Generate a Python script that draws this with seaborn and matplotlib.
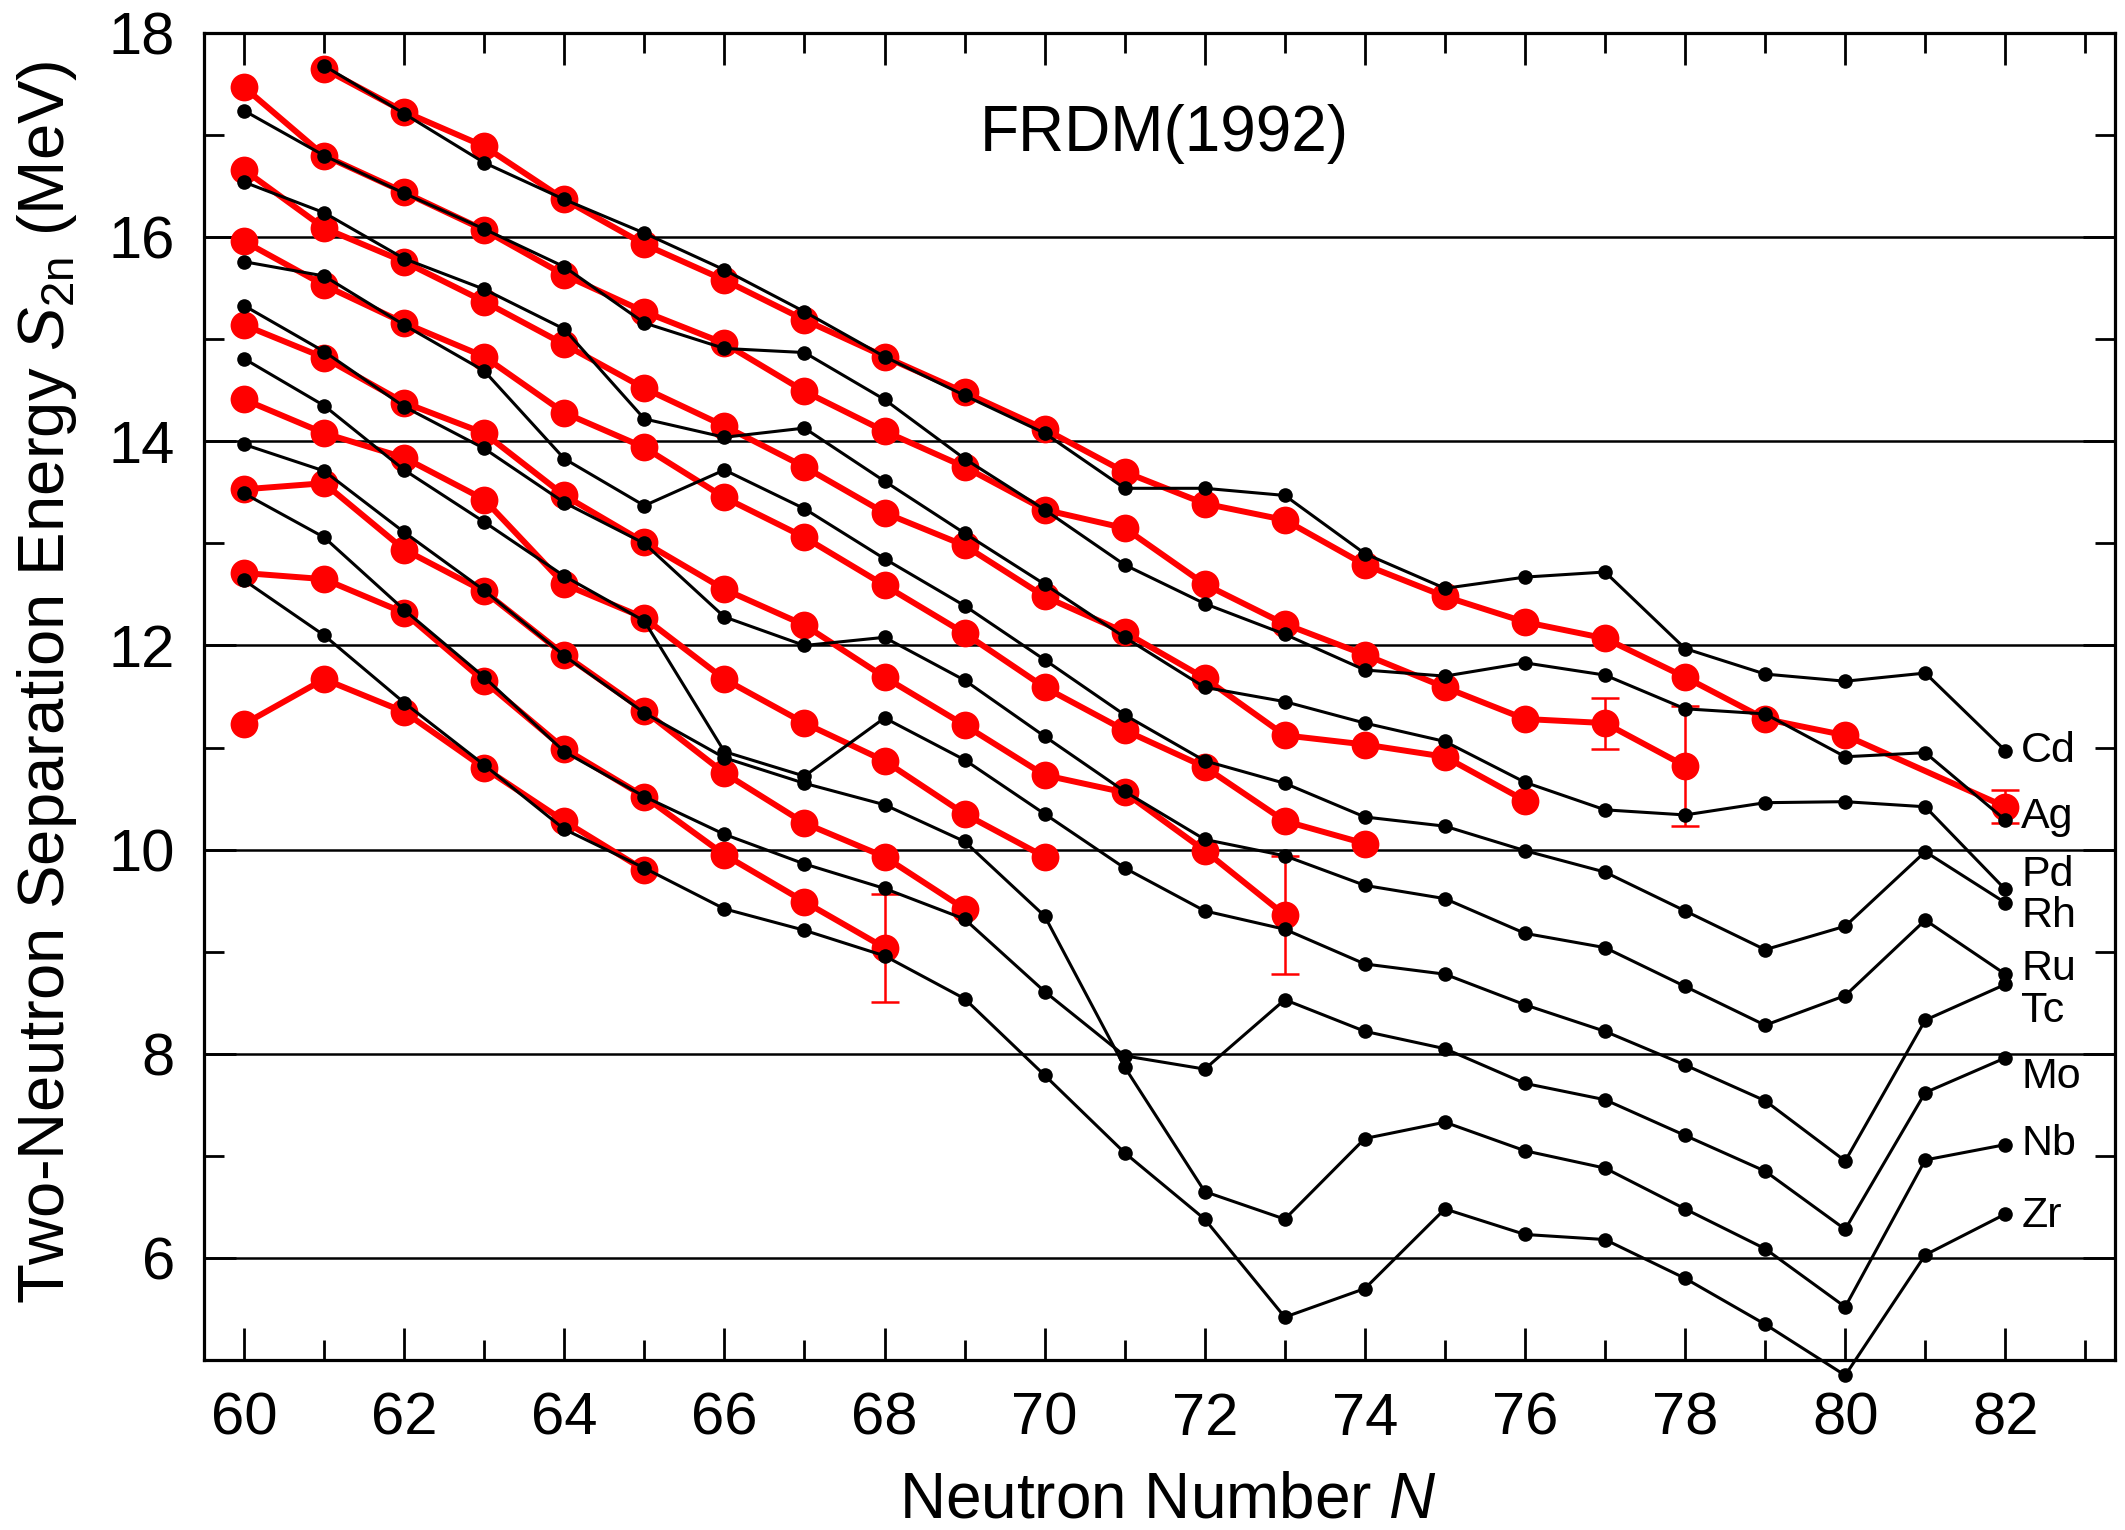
import numpy as np
import pandas as pd
import matplotlib
matplotlib.use("Agg")
import matplotlib.pyplot as plt
import seaborn as sns

sns.set_theme(style="white")
plt.rcParams["font.family"] = ["Liberation Sans", "DejaVu Sans"]
plt.rcParams["mathtext.fontset"] = "custom"
plt.rcParams["mathtext.rm"] = "Liberation Sans"
plt.rcParams["mathtext.it"] = "Liberation Sans:italic"
plt.rcParams["mathtext.bf"] = "Liberation Sans:bold"

nan = np.nan
N = list(range(60, 83))

# FRDM(1992) two-neutron separation energies (MeV), N = 60..82,
# named after the element label at the N = 82 end of each chain
frdm_cd = [nan, 17.68, 17.21, 16.73, 16.37, 16.04, 15.68, 15.27, 14.83, 14.45, 14.08, 13.54,
           13.54, 13.47, 12.90, 12.56, 12.67, 12.72, 11.97, 11.72, 11.65, 11.73, 10.97]
frdm_ag = [17.24, 16.80, 16.43, 16.08, 15.71, 15.16, 14.91, 14.87, 14.41, 13.83, 13.33, 12.79,
           12.41, 12.11, 11.76, 11.70, 11.83, 11.71, 11.38, 11.33, 10.91, 10.95, 10.29]
frdm_pd = [16.54, 16.24, 15.79, 15.49, 15.10, 14.22, 14.04, 14.13, 13.61, 13.10, 12.60, 12.08,
           11.59, 11.45, 11.24, 11.06, 10.66, 10.39, 10.34, 10.46, 10.47, 10.42, 9.61]
frdm_rh = [15.76, 15.62, 15.14, 14.69, 13.83, 13.37, 13.72, 13.34, 12.85, 12.39, 11.86, 11.32,
           10.87, 10.65, 10.32, 10.23, 9.99, 9.78, 9.40, 9.02, 9.25, 9.98, 9.48]
frdm_ru = [15.33, 14.88, 14.34, 13.93, 13.40, 13.00, 12.28, 12.00, 12.08, 11.66, 11.11, 10.57,
           10.10, 9.94, 9.65, 9.52, 9.18, 9.04, 8.66, 8.28, 8.57, 9.31, 8.78]
frdm_tc = [14.81, 14.35, 13.72, 13.21, 12.68, 12.24, 10.96, 10.72, 11.29, 10.88, 10.35, 9.82,
           9.40, 9.22, 8.88, 8.78, 8.48, 8.22, 7.89, 7.54, 6.95, 8.33, 8.68]
frdm_mo = [13.49, 13.06, 12.35, 11.69, 10.96, 10.52, 10.15, 9.86, 9.62, 9.32, 8.61, 7.98,
           7.85, 8.53, 8.22, 8.05, 7.71, 7.55, 7.20, 6.85, 6.28, 7.62, 7.96]
frdm_nb = [13.97, 13.71, 13.11, 12.54, 11.90, 11.34, 10.90, 10.65, 10.44, 10.08, 9.35, 7.87,
           6.65, 6.38, 7.17, 7.33, 7.05, 6.88, 6.48, 6.09, 5.52, 6.96, 7.11]
frdm_zr = [12.64, 12.10, 11.44, 10.83, 10.20, 9.82, 9.42, 9.21, 8.96, 8.54, 7.79, 7.03,
           6.38, 5.42, 5.70, 6.48, 6.23, 6.18, 5.80, 5.35, 4.85, 6.03, 6.43]

# Measured two-neutron separation energies (MeV), N = 60..82
exp_cd = [nan, 17.65, 17.23, 16.89, 16.37, 15.93, 15.58, 15.19, 14.83, 14.48, 14.12, 13.70,
          13.39, 13.23, 12.79, 12.48, 12.23, 12.07, 11.69, 11.28, 11.12, nan, 10.42]
exp_ag = [17.47, 16.80, 16.44, 16.07, 15.63, 15.27, 14.96, 14.49, 14.10, 13.75, 13.33, 13.15,
          12.60, 12.21, 11.91, 11.59, 11.28, 11.24, 10.82, nan, nan, nan, nan]
exp_pd = [16.66, 16.09, 15.76, 15.37, 14.95, 14.52, 14.15, 13.75, 13.30, 12.98, 12.48, 12.13,
          11.68, 11.12, 11.03, 10.91, 10.48, nan, nan, nan, nan, nan, nan]
exp_rh = [15.96, 15.53, 15.16, 14.83, 14.28, 13.94, 13.45, 13.06, 12.59, 12.12, 11.59, 11.17,
          10.81, 10.28, 10.06, nan, nan, nan, nan, nan, nan, nan, nan]
exp_ru = [15.14, 14.82, 14.38, 14.08, 13.47, 13.01, 12.55, 12.20, 11.69, 11.22, 10.73, 10.56,
          9.99, 9.36, nan, nan, nan, nan, nan, nan, nan, nan, nan]
exp_tc = [14.41, 14.08, 13.84, 13.43, 12.60, 12.27, 11.67, 11.24, 10.87, 10.35, 9.93, nan,
          nan, nan, nan, nan, nan, nan, nan, nan, nan, nan, nan]
exp_mo = [13.53, 13.59, 12.94, 12.53, 11.91, 11.36, 10.75, 10.26, 9.93, 9.42, nan, nan,
          nan, nan, nan, nan, nan, nan, nan, nan, nan, nan, nan]
exp_nb = [12.71, 12.65, 12.32, 11.65, 10.99, 10.52, 9.95, 9.49, 9.04, nan, nan, nan,
          nan, nan, nan, nan, nan, nan, nan, nan, nan, nan, nan]
exp_zr = [11.23, 11.67, 11.35, 10.80, 10.28, 9.80, nan, nan, nan, nan, nan, nan,
          nan, nan, nan, nan, nan, nan, nan, nan, nan, nan, nan]

# Experimental uncertainties (MeV) where they exceed the symbol size
err_element = ["Nb", "Ru", "Ag", "Ag", "Cd"]
err_n = [68, 73, 77, 78, 82]
err_size = [0.53, 0.58, 0.25, 0.59, 0.16]

elements = ["Cd", "Ag", "Pd", "Rh", "Ru", "Tc", "Mo", "Nb", "Zr"]
frdm = [frdm_cd, frdm_ag, frdm_pd, frdm_rh, frdm_ru, frdm_tc, frdm_mo, frdm_nb, frdm_zr]
exp = [exp_cd, exp_ag, exp_pd, exp_rh, exp_ru, exp_tc, exp_mo, exp_nb, exp_zr]

# Element labels next to the N = 82 ends (text baselines, MeV)
label_y = [10.86, 10.21, 9.64, 9.24, 8.72, 8.31, 7.66, 7.01, 6.30]


def long_form(series):
    frames = [pd.DataFrame({"N": N, "S2n": vals, "element": el})
              for el, vals in zip(elements, series)]
    return pd.concat(frames, ignore_index=True).dropna()


df_frdm = long_form(frdm)
df_exp = long_form(exp)

fig = plt.figure(figsize=(21.25, 15.30), dpi=100)
ax = fig.add_axes([0.0960, 0.1111, 0.8993, 0.8673])

red = "#ff0000"
sns.lineplot(data=df_exp, x="N", y="S2n", hue="element", units="element",
             palette={el: red for el in elements}, estimator=None, sort=True,
             marker="o", markersize=20, markeredgewidth=0, markeredgecolor=red,
             linewidth=4.3, legend=False, ax=ax, zorder=3)

exp_lookup = {el: dict(zip(N, vals)) for el, vals in zip(elements, exp)}
err_y = [exp_lookup[el][n] for el, n in zip(err_element, err_n)]
ax.errorbar(err_n, err_y, yerr=err_size, fmt="none", ecolor=red,
            elinewidth=1.8, capsize=10, capthick=1.8, zorder=3.5)

sns.lineplot(data=df_frdm, x="N", y="S2n", hue="element", units="element",
             palette={el: "black" for el in elements}, estimator=None, sort=True,
             marker="o", markersize=10.5, markeredgewidth=0, markeredgecolor="black",
             linewidth=2.2, legend=False, ax=ax, zorder=4, clip_on=False)

ax.set_xlim(59.5, 83.37)
ax.set_ylim(5, 18)
ax.set_xticks(range(60, 83, 2))
ax.set_xticks(range(61, 84, 2), minor=True)
ax.set_yticks(range(6, 19, 2))
ax.set_yticks(range(5, 18, 2), minor=True)

ax.grid(axis="y", which="major", color="black", linewidth=1.8)
ax.set_axisbelow(True)
for side in ["left", "right", "top", "bottom"]:
    ax.spines[side].set_color("black")
    ax.spines[side].set_linewidth(2.3)

ax.tick_params(which="both", direction="in", top=True, right=True, bottom=True,
               left=True, color="black", width=2.0)
ax.tick_params(which="major", length=23, labelsize=43, labelcolor="black")
ax.tick_params(axis="x", which="major", pad=23)
ax.tick_params(axis="y", which="major", pad=21)
ax.tick_params(which="minor", length=14.5)

ax.set_xlabel("Neutron Number $N$", fontsize=46, color="black")
ax.set_ylabel("Two-Neutron Separation Energy $S_{\\mathrm{2n}}$ (MeV)", fontsize=47,
              color="black")
ax.xaxis.label.set_va("baseline")
ax.xaxis.set_label_coords(0.5045, -0.119)
ax.yaxis.set_label_coords(-0.0654, 0.511)

ax.text(71.5, 16.84, "FRDM(1992)", ha="center", va="baseline", fontsize=46, color="black")
for el, y in zip(elements, label_y):
    ax.text(82.2, y, el, ha="left", va="baseline", fontsize=31, color="black")

fig.savefig("out.png", dpi=100)
